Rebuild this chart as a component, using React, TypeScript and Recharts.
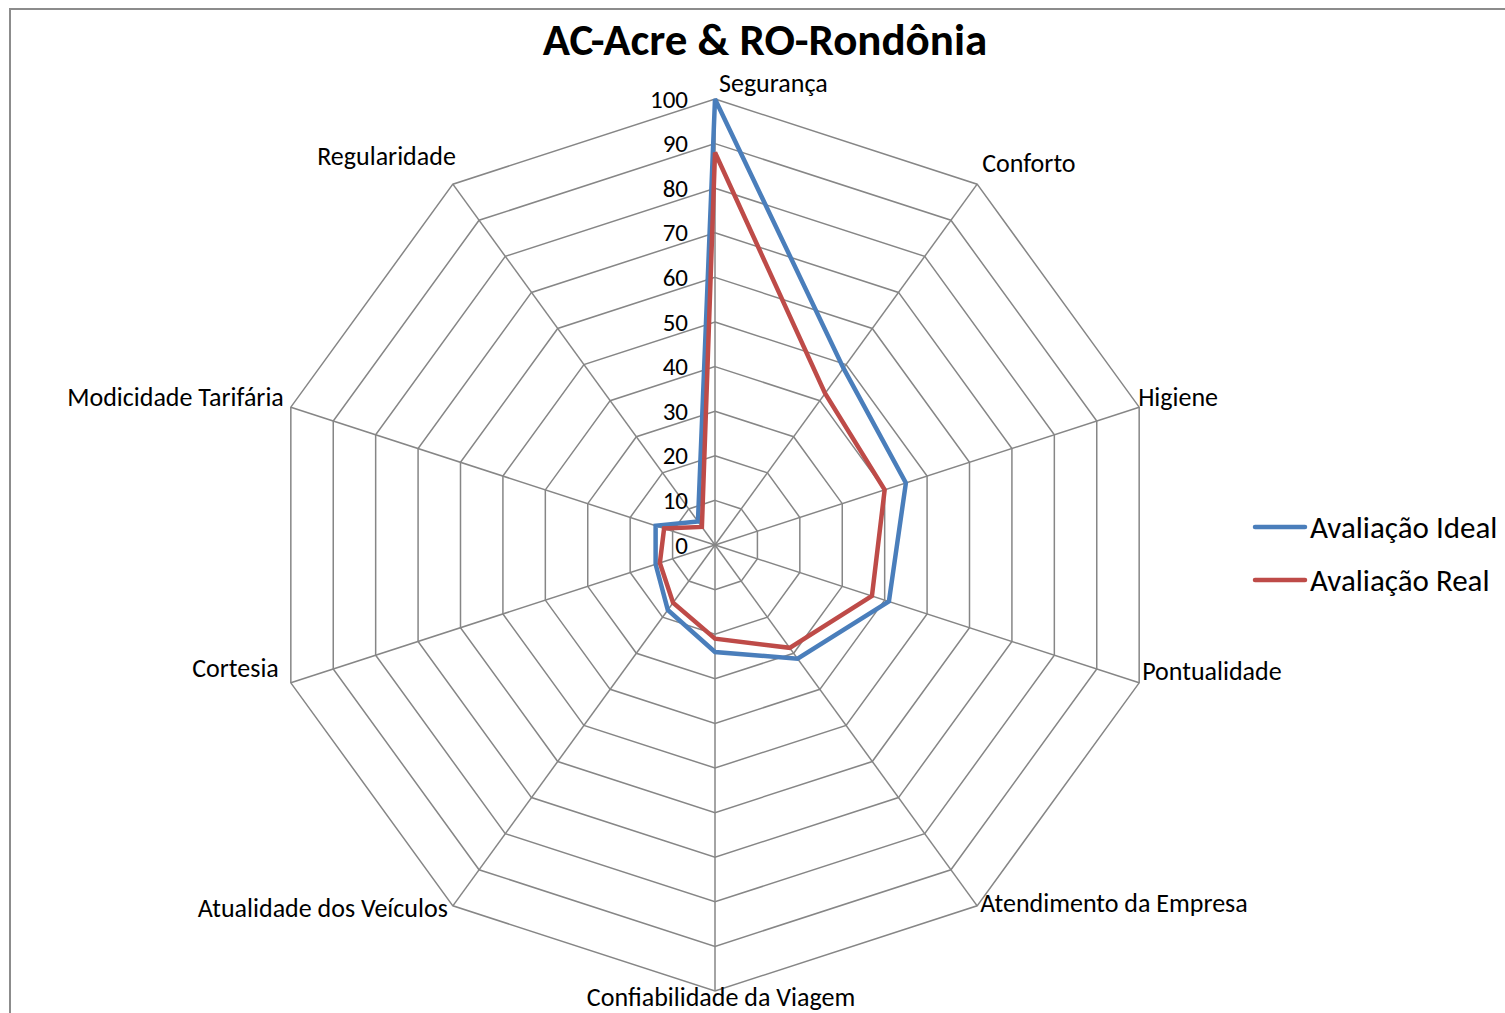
import { RadarChart, Radar, PolarGrid, PolarAngleAxis, PolarRadiusAxis, Legend } from 'recharts';

const categories = [
  'Segurança',
  'Conforto',
  'Higiene',
  'Pontualidade',
  'Atendimento da Empresa',
  'Confiabilidade da Viagem',
  'Atualidade dos Veículos',
  'Cortesia',
  'Modicidade Tarifária',
  'Regularidade',
];
const idealValues = [100, 49, 45, 41, 31.5, 24, 18, 14, 14, 6.5];
const realValues = [88, 42, 40, 37, 28.5, 21, 16, 13, 12, 5];
const radiusTicks = [0, 10, 20, 30, 40, 50, 60, 70, 80, 90, 100];

const series = [
  { key: 'ideal', name: 'Avaliação Ideal', color: '#4A7EBB' },
  { key: 'real', name: 'Avaliação Real', color: '#BE4B48' },
];

const data = categories.map((name, i) => ({ name, ideal: idealValues[i], real: realValues[i] }));

const FONT = 'Calibri, Carlito, Lato, sans-serif';

// label placement around the outer ring: [anchor, dx, dy] from the vertex
const labelPlace: [string, number, number][] = [
  ['start', 4, -16],
  ['start', 5, -21],
  ['start', -1, -10],
  ['start', 3, -12],
  ['start', 3, -3],
  ['middle', 6, 6],
  ['end', -5, 2],
  ['end', -12, -15],
  ['end', -7, -10],
  ['end', 3, -28],
];

function AngleTick(props: any) {
  const { x, y, payload, index } = props;
  const rad = (-payload.coordinate * Math.PI) / 180;
  const vx = x - 8 * Math.cos(rad);
  const vy = y - 8 * Math.sin(rad);
  const [anchor, dx, dy] = labelPlace[index] || ['middle', 0, 0];
  return (
    <text
      x={vx + dx}
      y={vy + dy}
      textAnchor={anchor}
      dominantBaseline="central"
      fontFamily={FONT}
      fontSize={26}
      fill="#000"
    >
      {payload.value}
    </text>
  );
}

function RadiusTick(props: any) {
  const { x, y, payload } = props;
  return (
    <text x={x - 27} y={y} textAnchor="end" dominantBaseline="central" fontFamily={FONT} fontSize={25} fill="#000">
      {payload.value}
    </text>
  );
}

function LegendBox() {
  return (
    <div style={{ fontFamily: FONT, fontSize: 31 }}>
      {series.map((s) => (
        <div key={s.key} style={{ display: 'flex', alignItems: 'center', height: 53 }}>
          <svg width={58} height={10}>
            <line x1={3} y1={5} x2={53} y2={5} stroke={s.color} strokeWidth={4.5} strokeLinecap="round" />
          </svg>
          <span>{s.name}</span>
        </div>
      ))}
    </div>
  );
}

export default function App() {
  return (
    <div
      style={{
        position: 'absolute',
        left: 9,
        top: 8,
        width: 1520,
        height: 1030,
        border: '2px solid #8c8c8c',
        background: '#fff',
        overflow: 'hidden',
      }}
    >
      <div
        style={{
          position: 'absolute',
          left: 404,
          width: 700,
          top: 10,
          textAlign: 'center',
          fontFamily: FONT,
          fontWeight: 'bold',
          fontSize: 45,
          lineHeight: '40px',
          color: '#000',
        }}
      >
        AC-Acre &amp; RO-Rondônia
      </div>
      <RadarChart width={1520} height={1030} data={data} cx={704} cy={535} outerRadius={446}>
        <PolarGrid gridType="polygon" stroke="#868686" strokeWidth={1.5} />
        <PolarAngleAxis dataKey="name" tick={AngleTick} tickLine={false} axisLine={false} />
        <PolarRadiusAxis
          angle={90}
          domain={[0, 100]}
          ticks={radiusTicks as any}
          tickCount={11}
          axisLine={false}
          tickLine={false}
          tick={RadiusTick}
        />
        {series.map((s) => (
          <Radar
            key={s.key}
            name={s.name}
            dataKey={s.key}
            stroke={s.color}
            strokeWidth={4.5}
            fill="none"
            fillOpacity={0}
            dot={false}
            isAnimationActive={false}
          />
        ))}
        <Legend content={<LegendBox />} wrapperStyle={{ position: 'absolute', left: 1241, top: 490, width: 280 }} />
      </RadarChart>
    </div>
  );
}
